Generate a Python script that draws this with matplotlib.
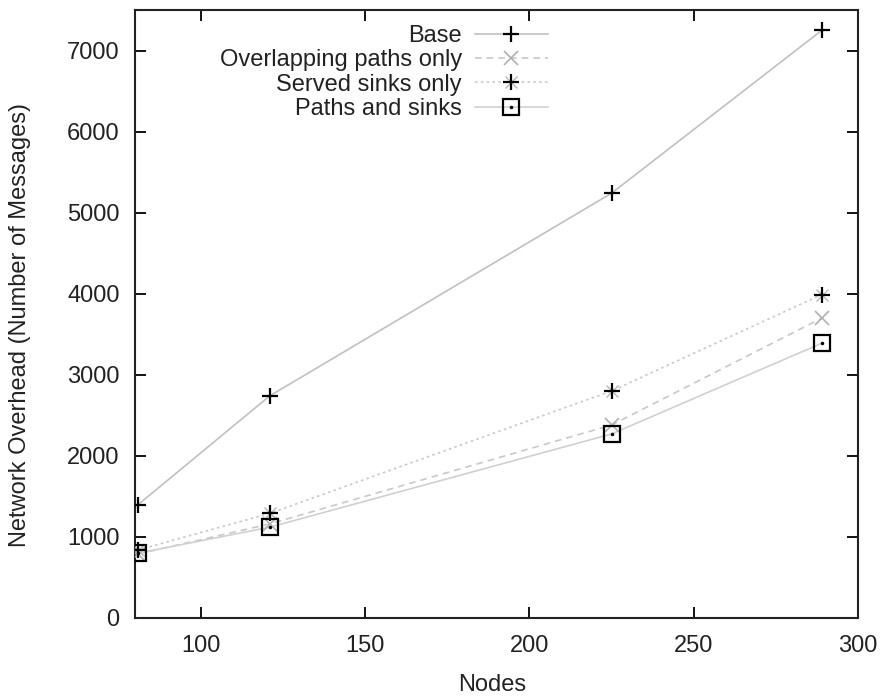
import matplotlib
matplotlib.use("Agg")
import matplotlib.pyplot as plt
from matplotlib.legend_handler import HandlerTuple
from matplotlib.lines import Line2D

nodes = [81, 121, 225, 289]
base = [1400, 2740, 5240, 7250]
overlapping = [790, 1160, 2380, 3700]
served = [840, 1290, 2800, 3990]
paths_sinks = [800, 1120, 2270, 3390]

x_ticks = [100, 150, 200, 250, 300]
y_ticks = [0, 1000, 2000, 3000, 4000, 5000, 6000, 7000]

FS = 17
plt.rcParams['font.family'] = ['Liberation Sans', 'DejaVu Sans']
plt.rcParams['font.size'] = FS

fig = plt.figure(figsize=(8.85, 6.99), dpi=100)
ax = fig.add_axes([135/885, 81/699, (858-135)/885, (618-10)/699])

ms = 12
ax.plot(nodes, base, color='#c0c0c0', lw=1.2, ls='-', zorder=2)
ax.plot(nodes, base, ls='none', marker='+', ms=ms, mew=1.6, color='black', zorder=4)

ax.plot(nodes, overlapping, color='#c8c8c8', lw=1.2, ls=(0, (4, 3)), zorder=2)
ax.plot(nodes, overlapping, ls='none', marker='x', ms=ms*0.85, mew=1.2, color='#b0b0b0', zorder=3)

ax.plot(nodes, served, color='#c8c8c8', lw=1.2, ls=(0, (1.5, 2)), zorder=2)
ax.plot(nodes, served, ls='none', marker='x', ms=ms*0.75, mew=1.0, color='#b8b8b8', zorder=3)
ax.plot(nodes, served, ls='none', marker='+', ms=ms, mew=1.6, color='black', zorder=4)

ax.plot(nodes, paths_sinks, color='#d0d0d0', lw=1.2, ls='-', zorder=2)
ax.plot(nodes, paths_sinks, ls='none', marker='s', ms=ms*0.95, mew=1.6, mfc='none', mec='black', zorder=5)
ax.plot(nodes, paths_sinks, ls='none', marker='.', ms=3, color='black', zorder=5)

ax.set_xlim(80, 300)
ax.set_ylim(0, 7500)
ax.set_xticks(x_ticks)
ax.set_yticks(y_ticks)
ax.tick_params(direction='in', length=8, width=1.3, top=True, right=True, labelsize=FS, colors='black', labelcolor='#222222')
ax.tick_params(axis='y', pad=11)
ax.tick_params(axis='x', pad=12)
for s in ax.spines.values():
    s.set_linewidth(1.5)
    s.set_color('#222222')

ax.set_xlabel('Nodes', fontsize=FS, color='#222222')
ax.set_ylabel('Network Overhead (Number of Messages)', fontsize=FS, color='#222222')
ax.xaxis.set_label_coords(0.494, (618-674)/608)
ax.yaxis.set_label_coords((31-135)/723, (618-325)/608)

h_base = (Line2D([], [], color='#c0c0c0', lw=1.2), Line2D([], [], ls='none', marker='+', ms=ms, mew=1.6, color='black'))
h_over = (Line2D([], [], color='#c8c8c8', lw=1.2, ls=(0, (4, 3))), Line2D([], [], ls='none', marker='x', ms=ms*0.85, mew=1.2, color='#b0b0b0'))
h_serv = (Line2D([], [], color='#c8c8c8', lw=1.2, ls=(0, (1.5, 2))), Line2D([], [], ls='none', marker='x', ms=ms*0.75, mew=1.0, color='#b8b8b8'),
          Line2D([], [], ls='none', marker='+', ms=ms, mew=1.6, color='black'))
h_path = (Line2D([], [], color='#d0d0d0', lw=1.2), Line2D([], [], ls='none', marker='s', ms=ms*0.95, mew=1.6, mfc='none', mec='black'),
          Line2D([], [], ls='none', marker='.', ms=3, color='black'))

leg = fig.legend([h_base, h_over, h_serv, h_path],
                 ['Base', 'Overlapping paths only', 'Served sinks only', 'Paths and sinks'],
                 handler_map={tuple: HandlerTuple(ndivide=1, pad=0)},
                 loc='upper right', bbox_to_anchor=(548/885, 1 - 25/699),
                 markerfirst=False, frameon=False, borderpad=0, borderaxespad=0,
                 handlelength=3.1, handletextpad=0.55, labelspacing=0.1, fontsize=FS)
for t in leg.get_texts():
    t.set_color('#222222')

fig.savefig('out.png', dpi=100)
